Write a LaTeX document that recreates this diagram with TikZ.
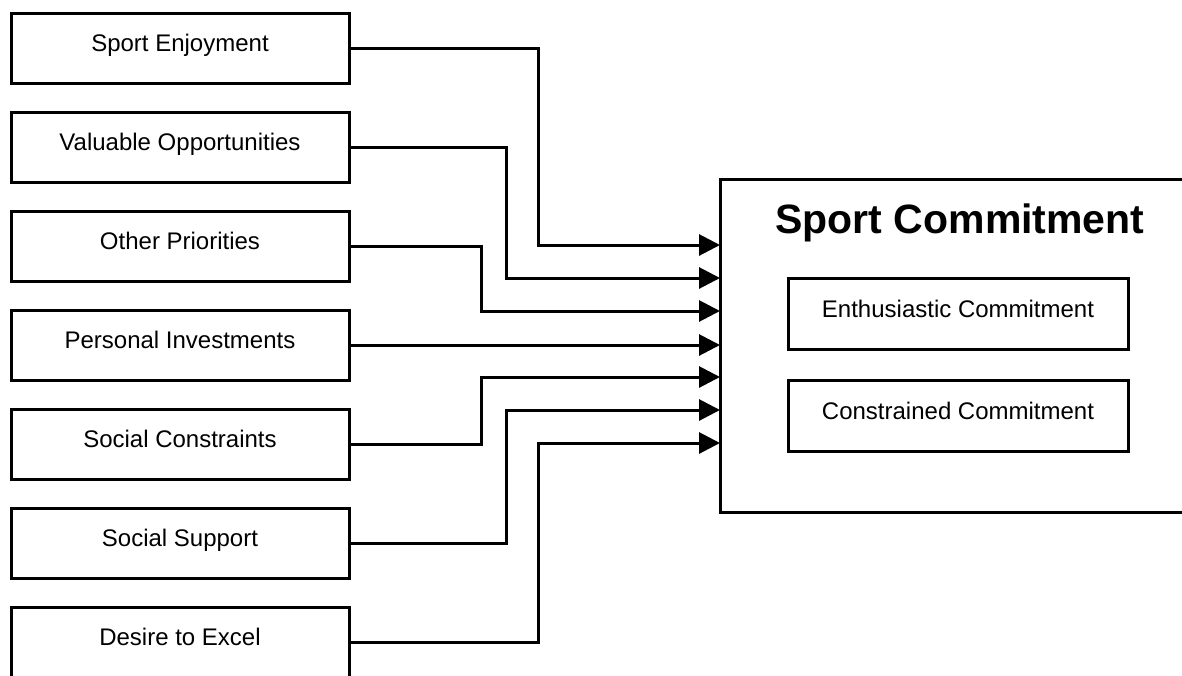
\documentclass[tikz,border=0pt]{standalone}
\usepackage{fontspec}
\setmainfont{Liberation Sans}
\usepackage{tikz}
\usetikzlibrary{arrows.meta,positioning}
\tikzset{factor/.style={draw=black,line width=3pt,minimum width=338pt,
                        minimum height=70pt,text height=17pt,text depth=11pt,
                        font=\fontsize{24}{28}\selectfont},
         inbox/.style={factor,minimum width=340pt,minimum height=71pt}}

\begin{document}
\begin{tikzpicture}[x=1pt,y=-1pt,node distance=99pt,
                    conn/.style={line width=3pt,-{Triangle[length=21pt,width=21pt]}}]
  \useasboundingbox (0,0) rectangle (1182,675);

  \node[factor] (enjoy)                      at (180,48) {Sport Enjoyment};
  \node[factor] (value)   [below of=enjoy]               {Valuable Opportunities};
  \node[factor] (prior)   [below of=value]               {Other Priorities};
  \node[factor] (invest)  [below of=prior]               {Personal Investments};
  \node[factor] (constr)  [below of=invest]              {Social Constraints};
  \node[factor] (support) [below of=constr]              {Social Support};
  \node[factor] (excel)   [below of=support]             {Desire to Excel};

  \node[draw=black,line width=3pt,minimum width=480pt,minimum height=333pt]
        (commit) at (960,345.5) {};
  \node[inner sep=0pt,font=\fontsize{41}{48}\selectfont\bfseries]
        (title) [below=26pt of commit.north] {Sport Commitment};
  \node[inbox] (enthus)                          at (958,314) {Enthusiastic Commitment};
  \node[inbox] (constrained) [below=28pt of enthus]           {Constrained Commitment};

  \foreach \i in {1,...,7}
    \coordinate (in\i) at (720,{212+33*\i});

  \draw[conn] (enjoy.east)   -- ++(188,0) |- (in1);
  \draw[conn] (value.east)   -- ++(156,0) |- (in2);
  \draw[conn] (prior.east)   -- ++(131,0) |- (in3);
  \draw[conn] (invest.east)  -- (invest.east -| in4);
  \draw[conn] (constr.east)  -- ++(131,0) |- (in5);
  \draw[conn] (support.east) -- ++(156,0) |- (in6);
  \draw[conn] (excel.east)   -- ++(188,0) |- (in7);
\end{tikzpicture}
\end{document}
